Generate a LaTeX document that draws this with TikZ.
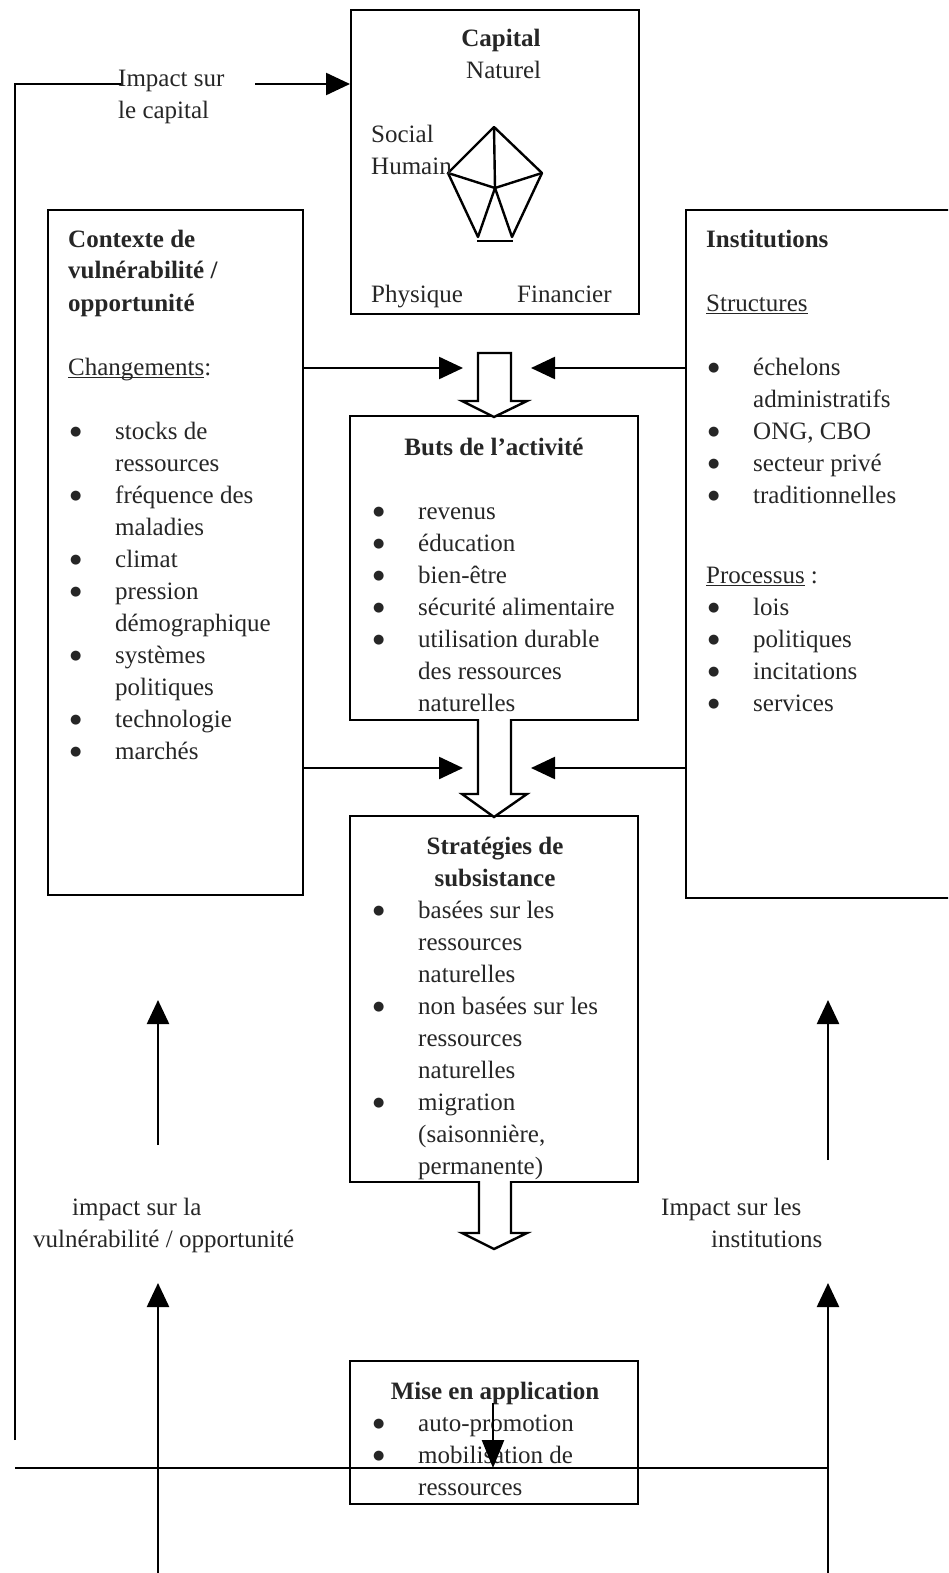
\documentclass[tikz,border=0pt]{standalone}
\usepackage{fontspec}
\setmainfont{Liberation Serif}
\newfontfamily\symfont{DejaVu Sans}
\usetikzlibrary{arrows.meta}

% text helpers: underlined word, bullet item, continuation line, plain line, stacked lines
\newcommand\ulin[1]{\setbox0\hbox{#1}\rlap{\rule[-3pt]{\wd0}{1.4pt}}\box0}
\newcommand\bigdot{\raisebox{3.5pt}[0pt][0pt]{\fontsize{13}{13}\symfont ●}}
\newcommand\bul[1]{\hbox{\makebox[47pt][l]{\hspace{2pt}\bigdot}#1}}
\newcommand\cont[1]{\hbox{\hspace{47pt}#1}}
\newcommand\one[1]{\hbox{#1}}
\newcommand\stack[1]{\vtop{\baselineskip=32pt\lineskiplimit=-50pt\lineskip=0pt #1}}

\tikzset{
  panel/.style={draw, line width=2.4pt, rectangle, inner sep=0pt, anchor=north west},
  txt/.style={inner sep=0pt, anchor=base west, text=black!85, font=\fontsize{25}{32}\selectfont},
  ctr/.style={txt, anchor=base},
  ln/.style={line width=2.4pt},
  arr/.style={ln, -{Triangle[length=24pt,width=22pt]}},
  hollow/.style={ln, fill=white, line join=miter},
}

\begin{document}
\begin{tikzpicture}[x=1pt,y=-1pt]
\useasboundingbox (0,0) rectangle (948,1573);
\clip (0,0) rectangle (948,1573);

% ---- panels ----
\node[panel, minimum width=288pt, minimum height=304pt] (cap) at (350,9) {};
\node[panel, minimum width=255pt, minimum height=685pt] (ctx) at (47,209) {};
\node[panel, minimum width=280pt, minimum height=688pt] (inst) at (685,209) {};
\node[panel, minimum width=288pt, minimum height=304pt] (buts) at (349,415) {};
\node[panel, minimum width=288pt, minimum height=366pt] (strat) at (349,815) {};
\node[panel, minimum width=288pt, minimum height=143pt] (mise) at (349,1360) {};

% ---- capital pentagon ----
\coordinate (pT) at (494,127);
\coordinate (pL) at (448,173);
\coordinate (pR) at (542,173);
\coordinate (pC) at (495,188);
\coordinate (pBL) at (478,237);
\coordinate (pBR) at (512,237);
\coordinate (pS1) at (477,241);
\coordinate (pS2) at (513,241);
\draw[ln, line join=round] (pL) -- (pT) -- (pR) -- (pBR) -- (pC) -- (pBL) -- cycle;
\draw[ln] (pT) -- (pC) (pL) -- (pC) -- (pR);
\draw[ln] (pS1) -- (pS2);

% ---- capital texts ----
\node[ctr, font=\fontsize{25}{32}\selectfont\bfseries] (capT) at (501,47) {Capital};
\node[txt] (capN) at (466,79) {Naturel};
\node[txt] (capS) at (371,143) {\stack{\one{Social}\one{Humain}}};
\node[txt] (capP) at (371,302) {Physique};
\node[txt] (capF) at (517,302) {Financier};

% ---- impact on capital loop ----
\coordinate (lb) at (15,1440);
\coordinate (lt) at (15,84);
\coordinate (le) at (123,84);
\coordinate (ls) at (255,84);
\draw[ln] (lb) -- (lt) -- (le);
\draw[arr] (ls) -- (ls -| cap.west);
\node[txt] (impc) at (118,87) {\stack{\one{Impact sur}\one{le capital}}};

% ---- vulnerability context ----
\node[txt] (ctxT) at (68,247) {\stack{%
  \one{\bfseries Contexte de}\one{\bfseries vuln\'erabilit\'e /}\one{\bfseries opportunit\'e}%
  \one{}\one{\ulin{Changements}:}\one{}%
  \bul{stocks de}\cont{ressources}%
  \bul{fr\'equence des}\cont{maladies}%
  \bul{climat}%
  \bul{pression}\cont{d\'emographique}%
  \bul{syst\`emes}\cont{politiques}%
  \bul{technologie}%
  \bul{march\'es}}};

% ---- institutions ----
\node[txt] (instT) at (706,247) {\stack{%
  \one{\bfseries Institutions}\one{}\one{\ulin{Structures}}\one{}%
  \bul{\'echelons}\cont{administratifs}%
  \bul{ONG, CBO}%
  \bul{secteur priv\'e}%
  \bul{traditionnelles}}};
\node[txt] (instP) at (706,583) {\stack{%
  \one{\ulin{Processus}\hspace{6pt}:}%
  \bul{lois}\bul{politiques}\bul{incitations}\bul{services}}};

% ---- goals ----
\node[ctr, font=\fontsize{25}{32}\selectfont\bfseries] (butsT) at (494,455) {Buts de l’activit\'e};
\node[txt] (butsL) at (371,519) {\stack{%
  \bul{revenus}\bul{\'education}\bul{bien-\^etre}\bul{s\'ecurit\'e alimentaire}%
  \bul{utilisation durable}\cont{des ressources}\cont{naturelles}}};

% ---- strategies ----
\node[ctr, font=\fontsize{25}{32}\selectfont\bfseries] (stratT) at (495,854) {\stack{%
  \hbox to 0pt{\hss Strat\'egies de\hss}\hbox to 0pt{\hss subsistance\hss}}};
\node[txt] (stratL) at (371,918) {\stack{%
  \bul{bas\'ees sur les}\cont{ressources}\cont{naturelles}%
  \bul{non bas\'ees sur les}\cont{ressources}\cont{naturelles}%
  \bul{migration}\cont{(saisonni\`ere,}\cont{permanente)}}};

% ---- implementation ----
\node[ctr, font=\fontsize{25}{32}\selectfont\bfseries] (miseT) at (495,1399) {Mise en application};
\node[txt] (miseL) at (371,1431) {\stack{%
  \bul{auto-promotion}\bul{mobilisation de}\cont{ressources}}};

% ---- side arrows into the centre ----
\coordinate (yA) at (0,368);
\coordinate (yB) at (0,768);
\coordinate (tLA) at (463,368);
\coordinate (tRA) at (531,368);
\coordinate (tLB) at (463,768);
\coordinate (tRB) at (531,768);
\draw[arr] (ctx.east |- yA) -- (tLA);
\draw[arr] (inst.west |- yA) -- (tRA);
\draw[arr] (ctx.east |- yB) -- (tLB);
\draw[arr] (inst.west |- yB) -- (tRB);

% ---- hollow block arrows ----
\draw[hollow] (478,353) -- (511,353) -- (511,401) -- (527,401) -- (494,417)
  -- (462,401) -- (478,401) -- cycle;
\draw[hollow] (478,719) -- (478,794) -- (462,794) -- (494,817) -- (527,794)
  -- (511,794) -- (511,719);
\draw[hollow] (479,1181) -- (479,1233) -- (462,1233) -- (494,1249) -- (527,1233)
  -- (511,1233) -- (511,1181);

% ---- feedback labels and upward arrows ----
\node[txt] (impv) at (33,1215) {\stack{%
  \hbox{\hspace{39pt}impact sur la}\one{vuln\'erabilit\'e / opportunit\'e}}};
\node[txt] (impi) at (661,1215) {\stack{%
  \one{Impact sur les}\hbox{\hspace{50pt}institutions}}};

\coordinate (uL1) at (158,1145);
\coordinate (uL1t) at (158,1000);
\coordinate (uL2) at (158,1575);
\coordinate (uL2t) at (158,1283);
\coordinate (uR1) at (828,1160);
\coordinate (uR1t) at (828,1000);
\coordinate (uR2) at (828,1575);
\coordinate (uR2t) at (828,1283);
\draw[arr] (uL1) -- (uL1t);
\draw[arr] (uL2) -- (uL2t);
\draw[arr] (uR1) -- (uR1t);
\draw[arr] (uR2) -- (uR2t);

% ---- bottom distribution line ----
\coordinate (hb1) at (15,1468);
\coordinate (hb2) at (828,1468);
\draw[ln] (hb1) -- (hb2);
\coordinate (ms) at (493,1403);
\draw[ln, -{Triangle[length=28pt,width=22pt]}] (ms) -- (ms |- hb1);
\end{tikzpicture}
\end{document}
